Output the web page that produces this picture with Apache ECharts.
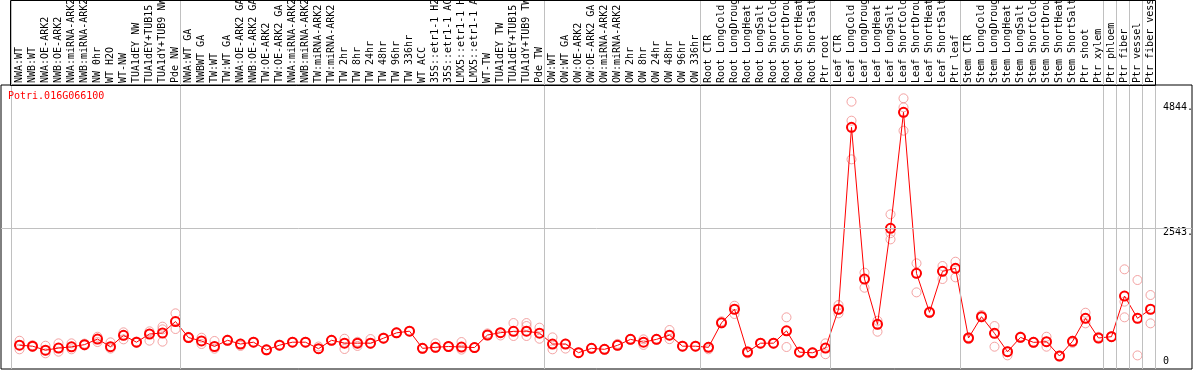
<!DOCTYPE html>
<html>
<head>
<meta charset="utf-8">
<script src="https://cdn.jsdelivr.net/npm/echarts@6/dist/echarts.min.js"></script>
<style>
html,body{margin:0;padding:0;background:#fff;}
#chart{width:1194px;height:370px;}
</style>
</head>
<body>
<div id="chart"></div>
<script>
const geneId = 'Potri.016G066100';
const categories = [
  'NWA:WT','NWB:WT','NWA:OE-ARK2','NWB:OE-ARK2','NWA:miRNA-ARK2','NWB:miRNA-ARK2','NW 0hr','WT H2O','WT-NW','TUA1dEY NW','TUA1dEY+TUB15 NW','TUA1dY+TUB9 NW','Pde NW',
  'NWA:WT GA','NWBWT GA','TW:WT','TW:WT GA','NWA:OE-ARK2 GA','NWB:OE-ARK2 GA','TW:OE-ARK2','TW:OE-ARK2 GA','NWA:miRNA-ARK2','NWB:miRNA-ARK2','TW:miRNA-ARK2','TW:miRNA-ARK2',
  'TW 2hr','TW 8hr','TW 24hr','TW 48hr','TW 96hr','TW 336hr','WT ACC','35S::etr1-1 H2O','35S::etr1-1 ACC','LMX5::etr1-1 H2O','LMX5::etr1-1 ACC','WT-TW','TUA1dEY TW','TUA1dEY+TUB15 TW','TUA1dY+TUB9 TW','Pde TW',
  'OW:WT','OW:WT GA','OW:OE-ARK2','OW:OE-ARK2 GA','OW:miRNA-ARK2','OW:miRNA-ARK2','OW 2hr','OW 8hr','OW 24hr','OW 48hr','OW 96hr','OW 336hr',
  'Root CTR','Root LongCold','Root LongDrought','Root LongHeat','Root LongSalt','Root ShortCold','Root ShortDrought','Root ShortHeat','Root ShortSalt','Ptr root',
  'Leaf CTR','Leaf LongCold','Leaf LongDrought','Leaf LongHeat','Leaf LongSalt','Leaf ShortCold','Leaf ShortDrought','Leaf ShortHeat','Leaf ShortSalt','Ptr leaf',
  'Stem CTR','Stem LongCold','Stem LongDrought','Stem LongHeat','Stem LongSalt','Stem ShortCold','Stem ShortDrought','Stem ShortHeat','Stem ShortSalt','Ptr shoot','Ptr xylem',
  'Ptr phloem','Ptr fiber','Ptr vessel','Ptr fiber vessel'
];
const meanValues = [
  315,296,220,260,283,325,432,286,502,372,528,547,766,
  460,395,290,408,337,372,226,315,372,372,248,408,
  353,353,353,448,550,582,255,274,290,280,270,509,553,579,582,544,
  337,337,172,255,236,312,426,372,426,506,296,296,
  274,741,1000,185,353,353,588,182,170,260,
  1000,4467,1576,712,2543,4753,1684,941,1722,1780,
  452,858,541,191,464,369,381,109,388,827,452,
  477,1252,827,1000
];
const rep1 = [
  400,315,305,350,350,345,476,369,560,385,579,668,922,
  475,457,395,420,345,380,235,325,380,380,290,418,
  438,380,432,460,560,590,265,350,300,375,275,540,560,737,737,649,
  464,345,180,262,245,340,435,426,435,604,305,305,
  285,770,1067,200,360,360,846,195,180,350,
  1080,4956,1697,780,2809,5020,1875,960,1824,1906,
  470,890,680,200,480,380,476,118,400,934,475,
  490,1761,1557,1271
];
const rep2 = [
  318,296,210,260,283,325,432,286,502,372,528,617,766,
  460,395,290,408,337,372,226,315,372,372,248,408,
  353,353,353,448,550,582,255,274,290,280,270,509,553,579,680,544,
  337,337,172,255,236,312,426,372,426,506,296,296,
  274,741,1000,185,353,353,588,182,170,260,
  1000,4594,1576,712,2450,4848,1684,941,1722,1780,
  452,858,541,191,464,369,381,109,388,827,452,
  477,1144,827,1000
];
const rep3 = [
  236,280,160,191,236,310,375,250,426,360,401,382,623,
  450,337,248,400,300,365,215,305,365,365,240,400,
  242,300,340,440,545,575,245,265,280,230,262,500,500,490,490,438,
  236,250,165,248,228,305,418,320,418,430,288,288,
  236,730,909,160,345,345,280,175,160,143,
  922,3857,1410,572,2332,4403,1322,925,1576,1608,
  430,845,286,121,455,360,286,100,360,731,445,
  470,846,120,731
];
const groupStarts = [0,13,41,53,63,73,84,85,86,87,88];
const yTickValues = [0,2543,4844];
const gridLineValue = 2543;

const MONO = '"DejaVu Sans Mono", "Liberation Mono", monospace';
const xMin = -1.4231, xMax = 90.1923;
const GRAY = '#c0c0c0';

const groupLines = groupStarts.map(k => ({xAxis: k - 0.65}));
const meanData = meanValues.map((v, i) => [i, v]);
const repData = [];
[rep1, rep2, rep3].forEach(r => r.forEach((v, i) => repData.push([i, v])));

const chart = echarts.init(document.getElementById('chart'), null, {renderer: 'canvas'});
chart.setOption({
  animation: false,
  backgroundColor: '#fff',
  title: {
    text: geneId, left: 8, top: 91, padding: 0,
    textStyle: {color: '#ff0000', fontSize: 10, fontWeight: 'normal', fontFamily: MONO}
  },
  grid: [
    {left: 1, right: 2, top: 0, height: 85, show: false, containLabel: false, outerBoundsMode: 'none'},
    {left: 1, right: 2, top: 85, bottom: 1, show: true, borderColor: '#000', borderWidth: 1,
     backgroundColor: 'transparent', containLabel: false, outerBoundsMode: 'none'}
  ],
  xAxis: [
    {gridIndex: 0, type: 'value', min: xMin, max: xMax, show: false},
    {gridIndex: 1, type: 'value', min: xMin, max: xMax, position: 'top',
     axisLine: {show: false}, axisTick: {show: false}, splitLine: {show: false},
     axisLabel: {
       customValues: categories.map((c, i) => i),
       rotate: 90, margin: 2, color: '#000', fontSize: 10, fontFamily: MONO,
       formatter: v => categories[Math.round(v)]
     }}
  ],
  yAxis: [
    {gridIndex: 0, type: 'value', min: 0, max: 1, show: false},
    {gridIndex: 1, type: 'value', min: -139, max: 5274, position: 'right',
     axisLine: {show: false}, axisTick: {show: false}, splitLine: {show: false},
     axisLabel: {
       customValues: yTickValues, inside: true, margin: 29, align: 'left',
       color: '#000', fontSize: 10, fontFamily: MONO,
       formatter: v => v === 0 ? '0' : (v === gridLineValue ? '{d|' + v + '.}' : v + '.'),
       rich: {d: {padding: [8, 0, 0, 0], color: '#000', fontSize: 10, fontFamily: MONO}}
     }}
  ],
  graphic: [
    {type: 'rect', shape: {x: 10.5, y: 0.5, width: 1145, height: 85}, style: {fill: 'none', stroke: '#000', lineWidth: 1}, z: 10}
  ],
  series: [
    {
      type: 'line', xAxisIndex: 0, yAxisIndex: 0, data: [], silent: true,
      markLine: {silent: true, symbol: 'none', label: {show: false},
        lineStyle: {color: GRAY, width: 1, type: 'solid'}, data: groupLines}
    },
    {
      type: 'scatter', xAxisIndex: 1, yAxisIndex: 1, data: repData, silent: true,
      symbol: 'circle', symbolSize: 9,
      itemStyle: {color: 'transparent', borderColor: '#f08c8c', borderWidth: 1},
      markLine: {silent: true, symbol: 'none', label: {show: false},
        lineStyle: {color: GRAY, width: 1, type: 'solid'},
        data: groupLines.concat([{yAxis: gridLineValue}])},
      z: 2
    },
    {
      type: 'line', xAxisIndex: 1, yAxisIndex: 1, data: meanData, silent: true,
      symbol: 'circle', symbolSize: 9, showAllSymbol: true,
      lineStyle: {color: '#ff0000', width: 1},
      itemStyle: {color: 'transparent', borderColor: '#ff0000', borderWidth: 2},
      z: 3
    }
  ]
});
</script>
</body>
</html>
